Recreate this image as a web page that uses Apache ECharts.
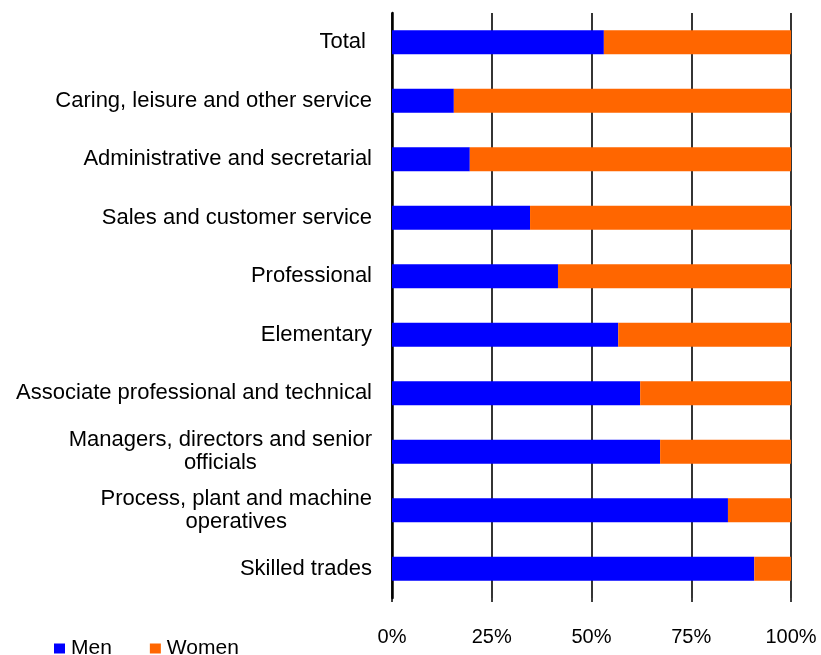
<!DOCTYPE html>
<html><head><meta charset="utf-8">
<script src="https://cdn.jsdelivr.net/npm/echarts@6/dist/echarts.min.js"></script>
<style>html,body{margin:0;padding:0;background:#fff}#c{width:821px;height:655px}</style>
</head><body><div id="c"></div>
<script>
var categories = ["Total ", "Caring, leisure and other service", "Administrative and secretarial", "Sales and customer service", "Professional", "Elementary", "Associate professional and technical", "Managers, directors and senior\nofficials", "Process, plant and machine\noperatives", "Skilled trades"];
var men = [53.1, 15.5, 19.5, 34.6, 41.6, 56.7, 62.2, 67.2, 84.2, 90.8];
var women = [46.9, 84.5, 80.5, 65.4, 58.4, 43.3, 37.8, 32.8, 15.8, 9.2];
var xTicks = [0, 25, 50, 75, 100];

var chart = echarts.init(document.getElementById('c'));
chart.setOption({
  animation: false,
  textStyle: {fontFamily: 'Liberation Sans, Arial, sans-serif'},
  grid: {left: 392, right: 30, top: 13, height: 585},
  legend: {
    left: 49, top: 633, itemWidth: 11, itemHeight: 10, itemGap: 38,
    textStyle: {fontSize: 21, color: '#000', fontFamily: 'Liberation Sans', padding: [0, 0, 0, 1]},
    data: [{name: 'Men', icon: 'rect'}, {name: 'Women', icon: 'rect'}]
  },
  xAxis: {
    type: 'value', min: xTicks[0], max: xTicks[xTicks.length - 1], interval: 25,
    axisLine: {show: false},
    axisTick: {show: true, length: 4, lineStyle: {color: '#000', width: 1.5}},
    splitLine: {show: true, lineStyle: {color: '#111', width: 1.7}},
    axisLabel: {fontSize: 20, color: '#000', margin: 29, formatter: function (v) { return v + '%'; }}
  },
  yAxis: {
    type: 'category', data: categories, inverse: true,
    axisLine: {show: true, lineStyle: {color: '#000', width: 2.5}},
    axisTick: {show: false},
    axisLabel: {
      fontSize: 22, color: '#000', margin: 20, lineHeight: 23, align: 'right',
      formatter: function (v) {
        if (v.indexOf('\n') < 0) return v;
        return v.split('\n').map(function (s) { return '{c|' + s + '}'; }).join('\n');
      },
      rich: {c: {align: 'center', fontSize: 22, lineHeight: 23, color: '#000', fontFamily: 'Liberation Sans'}}
    }
  },
  series: [
    {name: 'Men', type: 'bar', stack: 's', data: men, barWidth: 24, itemStyle: {color: '#0000FF'}},
    {name: 'Women', type: 'bar', stack: 's', data: women, barWidth: 24, itemStyle: {color: '#FF6600'}}
  ]
});
</script></body></html>
